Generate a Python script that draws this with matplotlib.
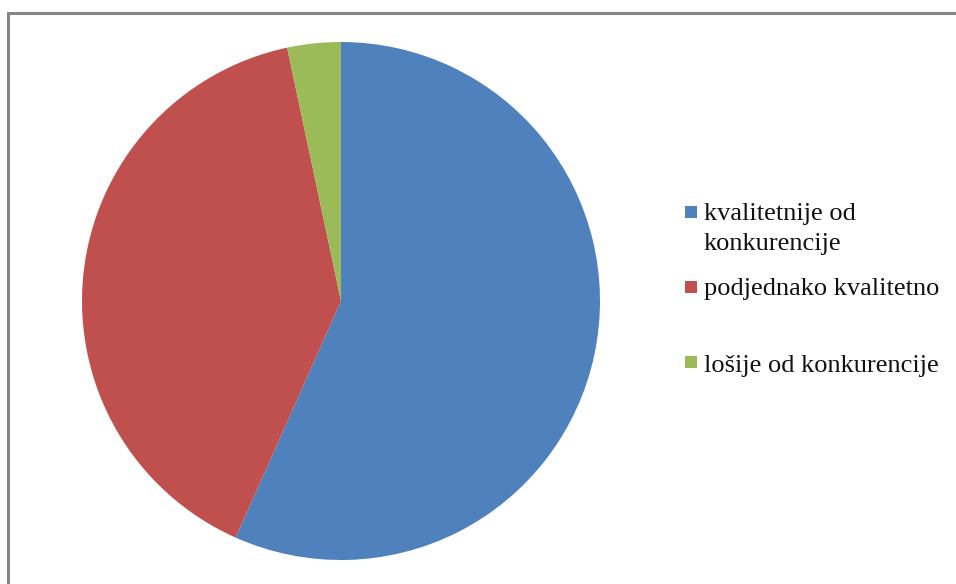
import matplotlib.pyplot as plt
from matplotlib.patches import Rectangle

# data
labels = ['kvalitetnije od\nkonkurencije', 'podjednako kvalitetno', 'lošije od konkurencije']
values = [17, 12, 1]
colors = ['#4F81BD', '#C0504D', '#9BBB59']

W, H = 956, 584
fig = plt.figure(figsize=(W / 100, H / 100), dpi=100)

# outer chart frame (runs off the right and bottom edges)
fig.patches.append(Rectangle((8 / W, -0.1), 1.2, (H - 13) / H + 0.1,
                             transform=fig.transFigure, fill=False,
                             edgecolor='#868686', linewidth=2.2))

# pie: centre (341,301), radius 259 in pixels
cx, cy, r = 341, 301, 259
ax = fig.add_axes([(cx - r) / W, (H - cy - r) / H, 2 * r / W, 2 * r / H])
ax.pie(values, colors=colors, startangle=90, counterclock=False, radius=1,
       wedgeprops=dict(linewidth=0))
ax.set_xlim(-1, 1)
ax.set_ylim(-1, 1)
ax.set_aspect('auto')

# legend, drawn by hand to keep Excel's layout
box_y = [212, 287, 362]       # square centres (px from top)
base_y = [220, 295, 372]      # baseline of first text line
pitch = 30
for lab, col, yb, yt in zip(labels, colors, box_y, base_y):
    fig.patches.append(Rectangle((685 / W, (H - yb - 6) / H), 12 / W, 12 / H,
                                 transform=fig.transFigure, facecolor=col,
                                 edgecolor='none'))
    for i, line in enumerate(lab.split('\n')):
        fig.text(704 / W, (H - yt - i * pitch) / H, line, va='baseline',
                 ha='left', fontsize=19, family='Liberation Serif',
                 color='#111111')

fig.savefig('out.png', dpi=100)
